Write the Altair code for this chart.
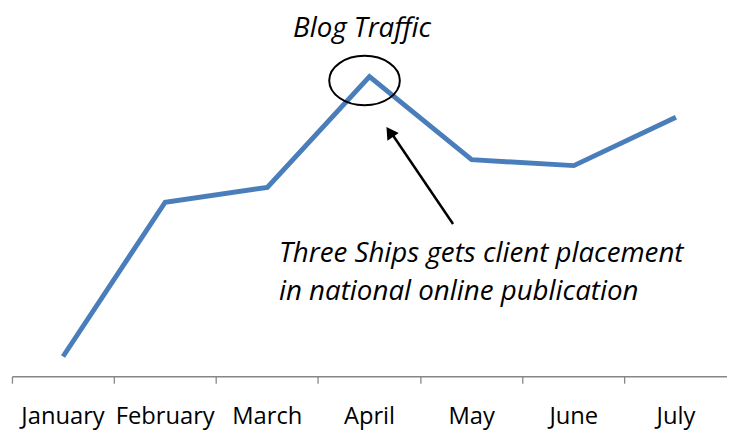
import altair as alt
import pandas as pd

months = ["January", "February", "March", "April", "May", "June", "July"]
traffic = [20, 176, 191, 303, 219, 213, 262]

title_text = "Blog Traffic"
note_text = "Three Ships gets client placement\nin national online publication"

df = pd.DataFrame({"month": months, "traffic": traffic})

FONT = "Open Sans"
BLUE = "#4A7EBB"

x = alt.X("month:N", sort=months, title=None,
          scale=alt.Scale(type="band", paddingInner=0, paddingOuter=0),
          axis=alt.Axis(bandPosition=0, domainColor="#868686", tickColor="#868686",
                        domainWidth=1.3, tickWidth=1.3, tickSize=7, labelAngle=0,
                        labelFont=FONT, labelFontSize=24, labelColor="#000000",
                        labelPadding=22, grid=False))
y = alt.Y("traffic:Q", scale=alt.Scale(domain=[0, 370], nice=False, zero=False), axis=None)

line = alt.Chart(df).mark_line(color=BLUE, strokeWidth=5, strokeJoin="miter").encode(x=x, y=y)

peak = df[df["month"] == "April"]
ellipse = alt.Chart(peak).mark_point(
    shape="M -1 0 A 1 0.7 0 1 1 1 0 A 1 0.7 0 1 1 -1 0",
    size=5100, filled=False, color="#000000", strokeWidth=2,
    xOffset=-5, yOffset=4, opacity=1,
).encode(x=alt.X("month:N", sort=months), y="traffic:Q")

arrow_line = alt.Chart(df.head(1)).mark_rule(color="#000000", strokeWidth=2.5).encode(
    x=alt.value(446), y=alt.value(216), x2=alt.value(385), y2=alt.value(126))
arrow_head = alt.Chart(df.head(1)).mark_point(
    shape="triangle-up", filled=True, color="#000000", size=190, angle=326, opacity=1
).encode(x=alt.value(382), y=alt.value(123))

title = alt.Chart(df.head(1)).mark_text(
    text=title_text, font=FONT, fontSize=28, fontStyle="italic", color="#000000",
    align="center", baseline="alphabetic"
).encode(x=alt.value(354), y=alt.value(27))

note = alt.Chart(df.head(1)).mark_text(
    text=note_text, lineBreak="\n", lineHeight=39, font=FONT, fontSize=28,
    fontStyle="italic", color="#000000", align="left", baseline="alphabetic"
).encode(x=alt.value(270), y=alt.value(254))

chart = alt.layer(line, ellipse, arrow_line, arrow_head, title, note).properties(
    width=723, height=370,
    autosize=alt.AutoSizeParams(type="none"),
    padding={"left": 4, "top": 0, "right": 0, "bottom": 56},
    background="white",
).configure_view(stroke=None)

chart.save("out.html", embed_options={"renderer": "svg", "actions": False})
